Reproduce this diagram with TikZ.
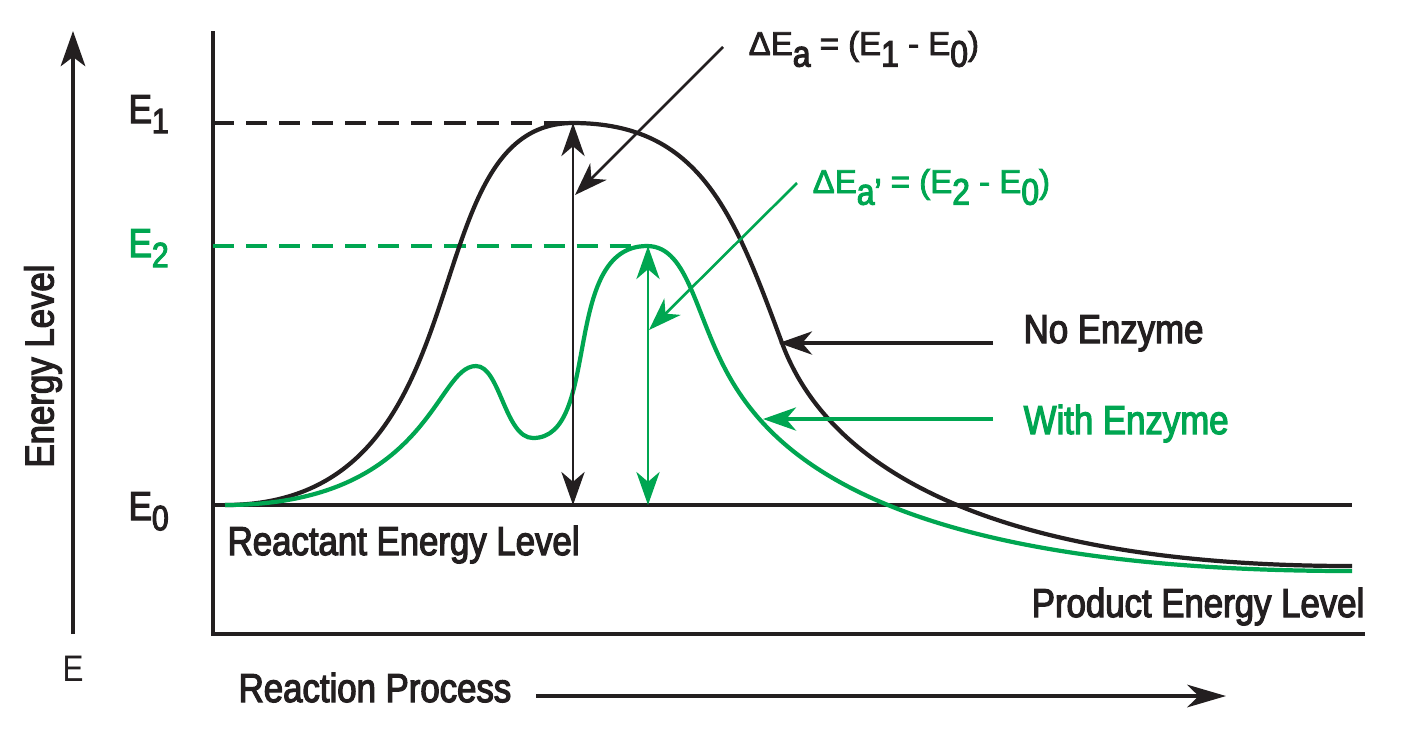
\documentclass[tikz,border=0pt]{standalone}
\usepackage{fontspec}
\setmainfont{Liberation Sans}
\newfontfamily\condf[FakeStretch=0.86,FakeBold=3]{Liberation Sans}
\newfontfamily\deltaf[FakeBold=2.5]{Liberation Sans}
\newfontfamily\thinf[FakeStretch=0.85]{Liberation Sans}
\usetikzlibrary{arrows.meta}
\definecolor{ink}{HTML}{231F20}
\definecolor{grn}{HTML}{00A651}
\newcommand{\lsub}[1]{\raisebox{-2.9pt}{\condf\fontsize{10}{12}\selectfont #1}}
\newcommand{\dsub}[1]{\raisebox{-3.3pt}{\condf\fontsize{10.5}{12}\selectfont #1}}
\tikzset{
  mainlbl/.style={font=\condf\fontsize{11.5}{13}\selectfont, inner sep=0pt, anchor=base west, text=ink},
  deltalbl/.style={font=\deltaf\fontsize{9.4}{11}\selectfont, inner sep=0pt, anchor=base west},
  curveline/.style={line width=1.2pt},
  frameline/.style={line width=1.1pt, draw=ink},
  thinarrow/.style={line width=0.75pt},
  dashline/.style={line width=1.05pt, dash pattern=on 6pt off 3.4pt},
}
\begin{document}
\begin{tikzpicture}[x=0.01cm,y=-0.01cm, >={Stealth[length=9.4pt,width=6.6pt,inset=2.8pt]}]
\useasboundingbox (0,0) rectangle (1401,738);

% frame
\coordinate (ftop) at (213,31);
\coordinate (fcorner) at (213,634);
\coordinate (fright) at (1365,634);
\draw[frameline, line join=miter] (ftop) -- (fcorner) -- (fright);
\coordinate (e0l) at (213,505);
\coordinate (e0r) at (1352,505);
\draw[frameline] (e0l) -- (e0r);

% dashed levels
\coordinate (e1l) at (213,123);
\coordinate (e1r) at (566,123);
\coordinate (e2l) at (213,246);
\coordinate (e2r) at (634,246);
\draw[dashline, draw=ink] (e1l) -- (e1r);
\draw[dashline, draw=grn] (e2l) -- (e2r);

% left energy axis
\coordinate (ebot) at (73,634);
\coordinate (etop) at (73,31);
\draw[line width=0.9pt, draw=ink, -{Stealth[length=10pt,width=7pt,inset=2.6pt]}] (ebot) -- (etop);
\node[font=\thinf\fontsize{10.5}{12}\selectfont, inner sep=0pt, anchor=base, text=ink] (elab) at (73,681) {E};
\node[font=\condf\fontsize{11.5}{13}\selectfont, inner sep=0pt, rotate=90, text=ink] (elevel) at (43,366) {Energy Level};

% level labels
\node[mainlbl] (E1lab) at (128,123) {E\lsub{1}};
\node[mainlbl, text=grn] (E2lab) at (128,257) {E\lsub{2}};
\node[mainlbl] (E0lab) at (128,520) {E\lsub{0}};

% black curve (no enzyme)
\draw[curveline, draw=ink] (225,505) .. controls (493,505) and (406,123) .. (573,123)
  .. controls (700,123) and (734,213) .. (782,343)
  .. controls (830,473) and (1000,566) .. (1352,566);

% green curve (with enzyme)
\draw[curveline, draw=grn] (225,505) .. controls (430,505) and (435,366) .. (476,366)
  .. controls (500,366) and (505,438) .. (533,438)
  .. controls (602,438) and (560,246) .. (647,246)
  .. controls (690,246) and (695,320) .. (733,383)
  .. controls (779,459) and (897,571) .. (1352,571);

% activation energy double arrows
\coordinate (pk1) at (573,123);
\coordinate (b1) at (573,505);
\draw[thinarrow, draw=ink, fill=ink, <->] (pk1) -- (b1);
\coordinate (pk2) at (648,246);
\coordinate (b2) at (648,505);
\draw[thinarrow, draw=grn, fill=grn, <->] (pk2) -- (b2);

% delta labels and pointers
\node[deltalbl, text=ink] (dEa) at (748,55) {ΔE\dsub{a} = (E\dsub{1} - E\dsub{0})};
\node[deltalbl, text=grn] (dEa2) at (812,193) {ΔE\dsub{a’} = (E\dsub{2} - E\dsub{0})};
\coordinate (p1s) at (723,47);
\coordinate (p1e) at (575,195);
\draw[thinarrow, draw=ink, fill=ink, ->] (p1s) -- (p1e);
\coordinate (p2s) at (797,183);
\coordinate (p2e) at (649,330);
\draw[thinarrow, draw=grn, fill=grn, ->] (p2s) -- (p2e);

% legend
\node[mainlbl] (noenz) at (1023,343) {No Enzyme};
\node[mainlbl, text=grn] (withenz) at (1023,434) {With Enzyme};
\coordinate (n1s) at (993,343);
\coordinate (n1e) at (779,343);
\draw[line width=0.9pt, draw=ink, fill=ink, ->] (n1s) -- (n1e);
\coordinate (n2s) at (993,419);
\coordinate (n2e) at (763,419);
\draw[line width=0.9pt, draw=grn, fill=grn, ->] (n2s) -- (n2e);

% level names
\node[mainlbl] (reactlab) at (227,555) {Reactant Energy Level};
\node[mainlbl, anchor=base east] (prodlab) at (1365,617) {Product Energy Level};

% reaction process
\node[mainlbl] (rproc) at (238,702) {Reaction Process};
\coordinate (rs) at (536,696);
\coordinate (re) at (1226,696);
\draw[line width=1.2pt, draw=ink, -{Stealth[length=11pt,width=6.4pt,inset=3.2pt]}] (rs) -- (re);
\end{tikzpicture}
\end{document}
